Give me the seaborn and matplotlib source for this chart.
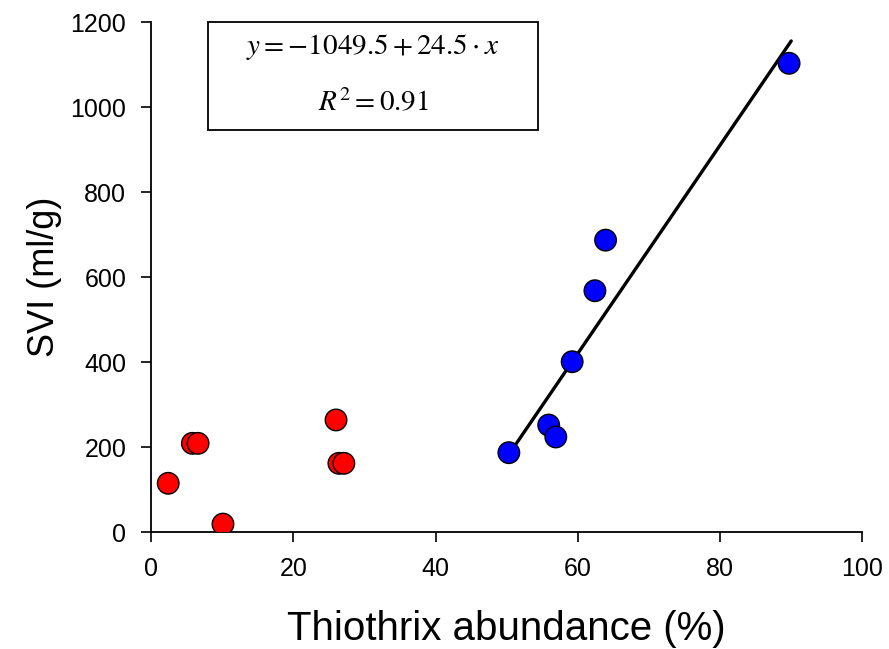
import matplotlib
matplotlib.use("Agg")
import matplotlib.pyplot as plt
import seaborn as sns
import pandas as pd
import numpy as np
from matplotlib.patches import Rectangle

# Data
red_x = [2.4, 5.8, 6.6, 10.1, 26.0, 26.4, 27.1]
red_y = [115, 209, 209, 19, 264, 162, 162]
blue_x = [50.3, 55.9, 56.9, 59.2, 62.4, 63.9, 89.7]
blue_y = [187, 252, 224, 401, 568, 687, 1103]
intercept = -1049.5
slope = 24.5
r2 = 0.91
fit_range = [50, 90]

x_ticks = [0, 20, 40, 60, 80, 100]
y_ticks = [0, 200, 400, 600, 800, 1000, 1200]

df = pd.DataFrame({
    "x": red_x + blue_x,
    "y": red_y + blue_y,
    "group": ["low"] * len(red_x) + ["high"] * len(blue_x),
})

sns.set_style("ticks")
plt.rcParams["font.family"] = ["Liberation Sans", "DejaVu Sans"]
plt.rcParams["mathtext.fontset"] = "stix"
plt.rcParams["text.color"] = "black"
plt.rcParams["axes.labelcolor"] = "black"

fig = plt.figure(figsize=(8.89, 6.49), dpi=100)
ax = fig.add_axes([0.170, 0.180, 0.800, 0.786])

fx = np.array(fit_range, dtype=float)
ax.plot(fx, intercept + slope * fx, color="black", lw=2.4, zorder=2)

sns.scatterplot(data=df, x="x", y="y", hue="group",
                palette={"low": "#ff0000", "high": "#0000ff"},
                s=240, edgecolor="black", linewidth=1.0, ax=ax,
                legend=False, zorder=3)

ax.set_xlim(0, 100)
ax.set_ylim(0, 1200)
ax.set_xticks(x_ticks)
ax.set_yticks(y_ticks)
ax.tick_params(axis="both", labelsize=18, length=7, width=1.2, direction="out",
               colors="black")
ax.tick_params(axis="x", pad=11)
ax.tick_params(axis="y", pad=11)
for s in ["top", "right"]:
    ax.spines[s].set_visible(False)
for s in ["left", "bottom"]:
    ax.spines[s].set_linewidth(1.3)
    ax.spines[s].set_color("black")

ax.set_xlabel("Thiothrix abundance (%)", fontsize=29, labelpad=21, color="black")
ax.set_ylabel("SVI (ml/g)", fontsize=26, labelpad=6, color="black")

rect = Rectangle((0.08, 0.789), 0.464, 0.211, transform=ax.transAxes,
                 facecolor="white", edgecolor="black", lw=1.3, zorder=4, clip_on=False)
ax.add_patch(rect)
ax.text(0.312, 0.951, r"$y = -1049.5 + 24.5 \cdot x$", transform=ax.transAxes,
        ha="center", va="center", fontsize=21, zorder=5)
ax.text(0.312, 0.841, r"$R^2 = 0.91$", transform=ax.transAxes,
        ha="center", va="center", fontsize=21, zorder=5)

fig.savefig("out.png", dpi=100)
